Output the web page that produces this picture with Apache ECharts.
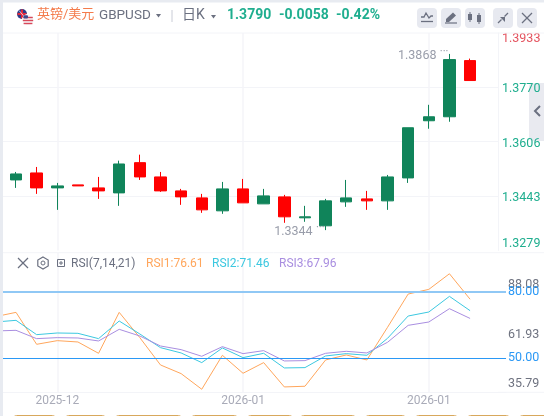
<!DOCTYPE html>
<html><head><meta charset="utf-8">
<style>html,body{margin:0;padding:0;background:#fff}#c{width:544px;height:416px}</style>
<script src="https://cdn.jsdelivr.net/npm/echarts@6/dist/echarts.min.js"></script>
</head><body><div id="c"></div>
<script>
// category index '0' is the session just before the visible window (only its RSI reaches the left edge)
const categories = ['0','1','2','3','4','5','6','7','8','9','10','11','12','13','14','15','16','17','18','19','20','21','22','23','24'];
const tickPositions = ['3','12','21'];
const tickLabels = ['2025-12','2026-01','2026-01'];
// [open, close, low, high]
const candles = [
 '-',
 [1.3491,1.3509,1.3467,1.3515],
 [1.3512,1.3467,1.3449,1.3530],
 [1.3467,1.3473,1.3401,1.3482],
 [1.3476,1.3473,1.3473,1.3476],
 [1.3467,1.3458,1.3434,1.3500],
 [1.3452,1.3539,1.3413,1.3549],
 [1.3543,1.3500,1.3491,1.3567],
 [1.3500,1.3458,1.3455,1.3515],
 [1.3458,1.3440,1.3416,1.3464],
 [1.3437,1.3401,1.3392,1.3449],
 [1.3398,1.3464,1.3389,1.3485],
 [1.3464,1.3422,1.3422,1.3494],
 [1.3419,1.3443,1.3419,1.3464],
 [1.3440,1.3380,1.3362,1.3446],
 [1.3377,1.3380,1.3365,1.3413],
 [1.3353,1.3428,1.3340,1.3434],
 [1.3425,1.3437,1.3410,1.3491],
 [1.3434,1.3428,1.3401,1.3458],
 [1.3428,1.3500,1.3401,1.3506],
 [1.3497,1.3648,1.3482,1.3648],
 [1.3669,1.3681,1.3645,1.3717],
 [1.3681,1.3853,1.3666,1.3870],
 [1.3850,1.3790,1.3790,1.3856],
 '-'
];
const rsi1 = [68.75,70.7,56.3,57.95,57.35,52.25,70.7,59.3,47,43.1,36.05,51.35,43.25,48.05,37.1,37.4,49.25,51.5,49.25,63.95,78.95,81.05,88.08,76.61,'-'];
const rsi2 = [66.35,67.1,60.65,61.4,61.25,58.85,66.8,60.95,54.8,52.4,48.05,54.65,50.3,52.25,45.65,45.8,51.05,52.1,51.35,59,69.05,70.85,77.9,71.46,'-'];
const rsi3 = [62.3,62.6,58.85,59.3,59.15,57.8,63.05,60.05,55.55,53.9,50.9,55.25,52.1,53.45,48.8,48.95,52.25,53.15,52.4,57.2,64.85,66.35,72.35,67.96,'-'];
const priceTicks = [1.3279,1.3443,1.3606,1.3770,1.3933];
const priceLabelAnchors = [1.3279,1.3436,1.3600,1.3764,1.3933];
const priceLabels = ['1.3279','1.3443','1.3606','1.3770','1.3933'];
const priceMaxLabel = '1.3933';
const rsiLabelAnchors = [38.7,60.5,83];
const rsiTickLabels = ['35.79','61.93','88.08'];
const rsiLevels = [80,50];
const rsiLevelLabels = ['80.00','50.00'];
const header = {name:'英镑/美元',code:'GBPUSD',period:'日K',last:'1.3790',chg:'-0.0058',pct:'-0.42%'};

const FF = 'Roboto,"Noto Sans CJK SC",sans-serif';
const GREEN='#10845a', RED='#ff0000', TEAL='#1fae8f', GRID='#f3f4f8', GRAY='#6b7080', BTN='#e7e9f0';
const priceMin=1.3279, priceMax=1.3933, rsiMin=34.68, rsiMax=97.57;
const leftX=-14.96, fullW=516, pTop=33, pH=217.4, rTop=252.7, rH=139.6;

const vLines = {silent:true,symbol:'none',animation:false,z:1,label:{show:false},
  lineStyle:{color:'#f4f5f9',width:1.5,type:'solid'},
  data:tickPositions.map(p=>({xAxis:p}))};
const annotText = (coord,text,dy)=>({coord,symbol:'circle',symbolSize:0,
  label:{show:true,position:'left',distance:13,offset:[0,dy],formatter:text,color:'#999daa',fontSize:12.5,fontFamily:FF}});
const annotDots = (coord)=>({coord,symbol:'circle',symbolSize:0,
  label:{show:true,position:'left',distance:1,offset:[0,-2],formatter:'···',color:'#8d919e',fontSize:11,fontFamily:FF}});
const rsiLine=(name,data,color)=>({name,type:'line',xAxisIndex:2,yAxisIndex:2,data,symbol:'none',
  lineStyle:{color,width:1},itemStyle:{color},animation:false,silent:true,z:3,connectNulls:false});

const T=(x,y,text,fill,fontSize,extra)=>({type:'text',z:100,x,y,style:Object.assign({text,fill,fontSize,fontFamily:FF,verticalAlign:'middle'},extra||{})});
const L=(x1,y1,x2,y2,stroke,lineWidth)=>({type:'line',z:101,shape:{x1,y1,x2,y2},style:{stroke,lineWidth:lineWidth||1.3}});
const PL=(points,stroke,w)=>({type:'polyline',z:101,shape:{points},style:{stroke,fill:'none',lineWidth:w||1.3}});
const PG=(points,fill)=>({type:'polygon',z:101,shape:{points},style:{fill}});
const R=(x,y,width,height,fill,r,z,stroke)=>({type:'rect',z:z==null?100:z,shape:{x,y,width,height,r:r||0},style:{fill,stroke:stroke||'none',lineWidth:1}});
const C=(cx,cy,r,fill,stroke,z)=>({type:'circle',z:z||101,shape:{cx,cy,r},style:{fill,stroke:stroke||'none',lineWidth:1}});

const graphics=[
 R(0,0,544,2.5,'#e8ebf1'),R(0,0,3,416,'#e8ebf1'),
 L(3,33,544,33,GRID,1),L(3,252.7,544,252.7,GRID,1),L(498,392.3,544,392.3,GRID,1),
 // flags
 C(22,14,5,'#2f3d86'),L(17.5,14,26.5,14,'#e0283c',2),L(22,9.5,22,18.5,'#e0283c',2),L(19,10.5,25,17.5,'#fff',.7),
 C(28,20,5.6,'#f4f4f6','#fff'),L(23.2,17.5,32.8,17.5,'#d9485a',1.4),L(22.8,20.5,33.2,20.5,'#d9485a',1.4),L(23.6,23.5,32.4,23.5,'#d9485a',1.4),
 R(23.5,15.2,4.5,3.4,'#3d4a8e',1,101),
 T(37,15,header.name,'#f47b4b',13),
 T(99,16,header.code,GRAY,13.5),
 PG([[156,14],[161,14],[158.5,17.5]],GRAY),
 L(172,10,172,22,'#c9ccd6',1),
 T(182,15,header.period,GRAY,14),
 PG([[211,15],[216,15],[213.5,18.5]],GRAY),
 T(227,15,header.last,TEAL,14,{fontWeight:'bold'}),
 T(279,15,header.chg,TEAL,14,{fontWeight:'bold'}),
 T(336,15,header.pct,TEAL,14,{fontWeight:'bold'}),
 // toolbar
 R(417,8,20,20,BTN,4),R(441,8,20,20,BTN,4),R(465,8,20,20,BTN,4),R(493,8,20,20,BTN,4),R(517,8,20,20,BTN,4),
 PL([[421,17],[424,17],[426,13],[429,18],[431,16],[433,16]],GRAY),L(421,21.5,433,21.5,GRAY,1.3),
 PG([[446,19],[453,12.5],[456,15.5],[449,22],[446,22]],GRAY),L(445,23,457,23,GRAY,1.2),
 L(470,12,470,22,GRAY,1),R(468,14,4,6,GRAY,0,101),L(479,13,479,24,GRAY,1),R(477,15,4,7,GRAY,0,101),
 L(498,23,501.5,19.5,GRAY,1.3),PG([[500,17],[505,17],[505,22]],GRAY),L(508,13,504.5,16.5,GRAY,1.3),
 L(522,13,532,23,GRAY,1.2),L(532,13,522,23,GRAY,1.2),
 // collapse tab
 {type:'rect',z:-1,shape:{x:529,y:83,width:20,height:58,r:4},style:{fill:'#e9eaf0'}},
 {type:'polyline',z:-1,shape:{points:[[540,106],[535,111],[540,116]]},style:{stroke:GRAY,fill:'none',lineWidth:2}},
 // RSI header
 L(18,258,28,268,GRAY,1.2),L(28,258,18,268,GRAY,1.2),
 {type:'polygon',z:101,shape:{points:[[43,257],[48.2,260],[48.2,266],[43,269],[37.8,266],[37.8,260]]},style:{fill:'none',stroke:GRAY,lineWidth:1.2}},
 C(43,263,2,'none',GRAY),
 R(57.5,259.5,7,7,'none',0,101,GRAY),L(61,261,61,265,GRAY,1),L(59,263,63,263,GRAY,1),
 T(71,263.5,'RSI(7,14,21)',GRAY,12),
 T(146,263.5,'RSI1:76.61','#ffa65c',12),
 T(212,263.5,'RSI2:71.46','#3cc8e0',12),
 T(279,263.5,'RSI3:67.96','#a98ee0',12),
 // cut-off tabs
 ...[[13,42],[65,40],[115,66],[191,46],[247,45],[300,55],[365,40],[415,42],[467,42],[519,40]].map(a=>R(a[0]+.5,415.5,a[1],10,'#fff',3,100,'#d8a85c'))
];

const gridBase={outerBoundsMode:'none',containLabel:false};
const option={
 animation:false,backgroundColor:'#fff',
 grid:[
  {...gridBase,left:leftX,top:pTop,width:fullW,height:pH},
  {...gridBase,left:3,top:pTop,width:495,height:pH},
  {...gridBase,left:leftX,top:rTop,width:fullW,height:rH},
  {...gridBase,left:3,top:rTop,width:503,height:rH}
 ],
 xAxis:[
  {type:'category',gridIndex:0,data:categories,show:false},
  {type:'category',gridIndex:1,data:categories,show:false},
  {type:'category',gridIndex:2,data:categories,axisLine:{show:false},axisTick:{show:false},splitLine:{show:false},
   axisLabel:{color:'#a9abb8',fontSize:12,fontFamily:FF,margin:3,hideOverlap:false,
     interval:(i,v)=>tickPositions.includes(v),
     formatter:v=>tickLabels[tickPositions.indexOf(v)]||''}},
  {type:'category',gridIndex:3,data:categories,axisLine:{show:true,lineStyle:{color:GRID}},axisTick:{show:false},axisLabel:{show:false}}
 ],
 yAxis:[
  {type:'value',gridIndex:0,min:priceMin,max:priceMax,show:false,splitLine:{show:false}},
  {type:'value',gridIndex:1,min:priceMin,max:priceMax,position:'right',scale:true,
   axisLine:{show:true,lineStyle:{color:GRID}},axisTick:{show:false,customValues:priceTicks},
   splitLine:{show:true,showMinLine:false,showMaxLine:false,lineStyle:{color:GRID,width:1}},
   axisLabel:{customValues:priceLabelAnchors,margin:4,fontSize:12.5,fontFamily:FF,hideOverlap:false,showMinLabel:true,showMaxLabel:true,
     verticalAlignMinLabel:'bottom',verticalAlignMaxLabel:'top',
     formatter:v=>priceLabels[priceLabelAnchors.indexOf(v)]||'',
     color:v=>priceLabels[priceLabelAnchors.indexOf(Number(v))]===priceMaxLabel?'#e4525e':TEAL}},
  {type:'value',gridIndex:2,min:rsiMin,max:rsiMax,show:false,splitLine:{show:false}},
  {type:'value',gridIndex:3,min:rsiMin,max:rsiMax,position:'right',
   axisLine:{show:false},axisTick:{show:false},splitLine:{show:false},
   axisLabel:{customValues:rsiLabelAnchors,margin:2,fontSize:12.5,fontFamily:FF,hideOverlap:false,showMinLabel:true,showMaxLabel:true,
     formatter:v=>rsiTickLabels[rsiLabelAnchors.indexOf(v)]||'',color:'#6f7380'}}
 ],
 series:[
  {type:'candlestick',xAxisIndex:0,yAxisIndex:0,data:candles,barWidth:12,z:3,silent:true,
   itemStyle:{color:GREEN,borderColor:GREEN,color0:RED,borderColor0:RED,borderWidth:1},
   markLine:vLines,
   markPoint:{silent:true,animation:false,data:[
     annotText(['22',1.3870],'1.3868',2),annotDots(['22',1.3870]),
     annotText(['16',1.3340],'1.3344',2),annotDots(['16',1.3340])]}},
  {type:'line',xAxisIndex:1,yAxisIndex:1,data:[],silent:true},
  {type:'line',xAxisIndex:2,yAxisIndex:2,data:[],silent:true,markLine:vLines},
  rsiLine('RSI1',rsi1,'#ffa65c'),
  rsiLine('RSI2',rsi2,'#3cc8e0'),
  rsiLine('RSI3',rsi3,'#a98ee0'),
  {type:'line',xAxisIndex:3,yAxisIndex:3,data:[],silent:true,z:4,
   markLine:{silent:true,symbol:'none',animation:false,
    label:{show:true,position:'end',distance:2,color:'#2a98f5',fontSize:12.5,fontFamily:FF},
    data:[{yAxis:rsiLevels[0],label:{formatter:rsiLevelLabels[0]},lineStyle:{color:'#90c8f5',width:2,type:'solid'}},
          {yAxis:rsiLevels[1],label:{formatter:rsiLevelLabels[1]},lineStyle:{color:'#2a98f5',width:1,type:'solid'}}]}}
 ],
 graphic:{elements:graphics}
};
const chart=echarts.init(document.getElementById('c'),null,{renderer:'canvas',width:544,height:416});
chart.setOption(option);
</script></body></html>
